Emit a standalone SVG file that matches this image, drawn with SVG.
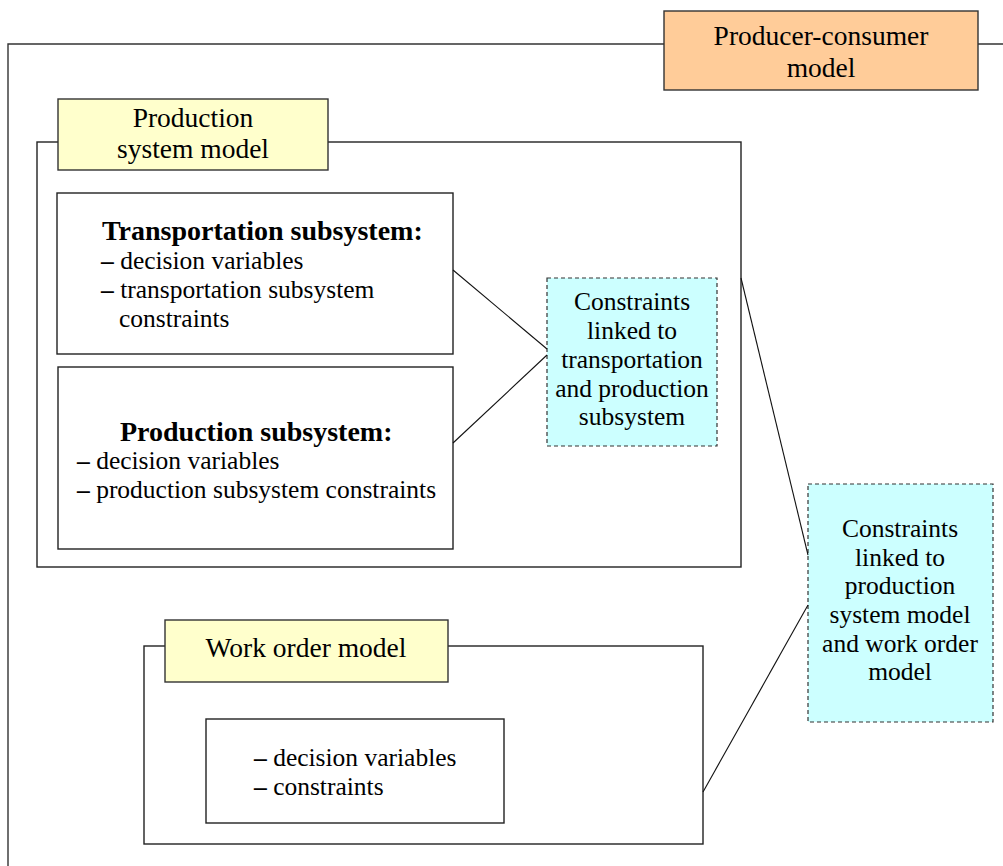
<svg xmlns="http://www.w3.org/2000/svg" width="1003" height="866" viewBox="0 0 1003 866">
<style>
text{font-family:"Liberation Serif","Times New Roman",serif;fill:#000}
.lbl{font-size:27.5px;text-anchor:middle}
.body{font-size:25.5px}
.ctr{font-size:25.5px;text-anchor:middle}
.bold{font-size:28px;font-weight:bold}
.dash{font-weight:bold}
.box{fill:#fff;stroke:#222;stroke-width:1.4}
.frame{fill:none;stroke:#333;stroke-width:1.4}
.label{fill:#ffffcc;stroke:#333;stroke-width:1.4}
.pc{fill:#ffcc99;stroke:#333;stroke-width:1.4}
.cons{fill:#ccffff;stroke:#333;stroke-width:1.2;stroke-dasharray:4 3}
.conn{fill:none;stroke:#111;stroke-width:1.1}
</style>
<rect width="1003" height="866" fill="#fff"/>
<g id="producer-consumer-model">
<polyline class="frame" points="8,866 8,44 1003,44"/>
<rect class="pc" x="664" y="11" width="314" height="79"/>
<text class="lbl" x="821" y="45">Producer-consumer</text>
<text class="lbl" x="821" y="77">model</text>
</g>
<g id="production-system-model">
<rect class="box" x="37" y="142" width="704" height="425"/>
<rect class="label" x="58" y="99" width="270" height="71"/>
<text class="lbl" x="193" y="127">Production</text>
<text class="lbl" x="193" y="158">system model</text>
</g>
<g id="transportation-subsystem">
<rect class="box" x="57" y="193" width="396" height="161"/>
<text class="bold" x="102" y="240">Transportation subsystem:</text>
<text class="body" x="101" y="269"><tspan class="dash">–</tspan> decision variables</text>
<text class="body" x="101" y="298"><tspan class="dash">–</tspan> transportation subsystem</text>
<text class="body" x="119" y="327">constraints</text>
</g>
<g id="production-subsystem">
<rect class="box" x="58" y="367" width="395" height="182"/>
<text class="bold" x="120" y="441">Production subsystem:</text>
<text class="body" x="77" y="469"><tspan class="dash">–</tspan> decision variables</text>
<text class="body" x="77" y="498"><tspan class="dash">–</tspan> production subsystem constraints</text>
</g>
<g id="constraints-transport-production">
<rect class="cons" x="547" y="278" width="170" height="168"/>
<text class="ctr" x="632" y="310">Constraints</text>
<text class="ctr" x="632" y="339">linked to</text>
<text class="ctr" x="632" y="368">transportation</text>
<text class="ctr" x="632" y="397">and production</text>
<text class="ctr" x="632" y="425">subsystem</text>
</g>
<g id="work-order-model">
<rect class="box" x="144" y="646" width="559" height="198"/>
<rect class="label" x="165" y="620" width="283" height="62"/>
<text class="lbl" x="306" y="657">Work order model</text>
</g>
<g id="work-order-content">
<rect class="box" x="206" y="719" width="298" height="104"/>
<text class="body" x="254" y="766"><tspan class="dash">–</tspan> decision variables</text>
<text class="body" x="254" y="795"><tspan class="dash">–</tspan> constraints</text>
</g>
<g id="constraints-production-workorder">
<rect class="cons" x="808" y="484" width="185" height="238"/>
<text class="ctr" x="900" y="537">Constraints</text>
<text class="ctr" x="900" y="566">linked to</text>
<text class="ctr" x="900" y="594">production</text>
<text class="ctr" x="900" y="623">system model</text>
<text class="ctr" x="900" y="652">and work order</text>
<text class="ctr" x="900" y="680">model</text>
</g>
<g id="connectors">
<line class="conn" x1="453" y1="270" x2="547" y2="349"/>
<line class="conn" x1="453" y1="443" x2="547" y2="355"/>
<line class="conn" x1="741" y1="278" x2="808" y2="555"/>
<line class="conn" x1="703" y1="792" x2="808" y2="605"/>
</g>
</svg>
